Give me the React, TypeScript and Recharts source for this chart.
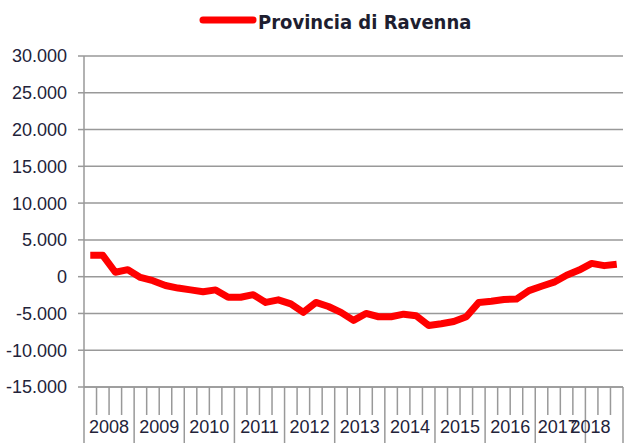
import { LineChart, Line, XAxis, YAxis, CartesianGrid, Legend } from "recharts";

// quarterly values, 2008 Q1 .. 2018 Q3
const quarters = [
  "2008T1", "2008T2", "2008T3", "2008T4",
  "2009T1", "2009T2", "2009T3", "2009T4",
  "2010T1", "2010T2", "2010T3", "2010T4",
  "2011T1", "2011T2", "2011T3", "2011T4",
  "2012T1", "2012T2", "2012T3", "2012T4",
  "2013T1", "2013T2", "2013T3", "2013T4",
  "2014T1", "2014T2", "2014T3", "2014T4",
  "2015T1", "2015T2", "2015T3", "2015T4",
  "2016T1", "2016T2", "2016T3", "2016T4",
  "2017T1", "2017T2", "2017T3", "2017T4",
  "2018T1", "2018T2", "2018T3",
];
const ravenna = [
  2900, 2900, 600, 950,
  -100, -550, -1200, -1550,
  -1800, -2050, -1800, -2800,
  -2800, -2450, -3500, -3150,
  -3700, -4850, -3500, -4050,
  -4850, -5950, -5000, -5450,
  -5450, -5100, -5300, -6650,
  -6400, -6100, -5450, -3500,
  -3350, -3100, -3050, -1900,
  -1300, -750, 200, 900,
  1800, 1500, 1700,
];
const yTicks = [-15000, -10000, -5000, 0, 5000, 10000, 15000, 20000, 25000, 30000];
const yearLabels = ["2008", "2009", "2010", "2011", "2012", "2013", "2014", "2015", "2016", "2017", "2018"];
// where each year label sits, in quarter units along the axis
const yearLabelPos = [2, 6, 10, 14, 18, 22, 26, 30, 34, 37.8, 40.4];

const data = quarters.map((q, i) => ({ q, x: i + 0.5, v: ravenna[i] }));
const boundaryTicks = quarters.map((_, i) => i).concat([quarters.length]);
const xTicks = boundaryTicks.concat(yearLabelPos.filter((p) => !Number.isInteger(p)));

const fmt = (v: number) => {
  const s = Math.abs(v).toString().replace(/\B(?=(\d{3})+(?!\d))/g, ".");
  return v < 0 ? "-" + s : s;
};

const font = "'Liberation Sans', Arial, sans-serif";

function XTick(props: any) {
  const { x, y, payload } = props;
  const v = payload.value as number;
  const idx = yearLabelPos.indexOf(v);
  const isLine = Number.isInteger(v);
  // long ticks mark year boundaries
  const long = v % 4 === 0 || v === quarters.length;
  return (
    <g>
      {isLine && (
        <line x1={x} x2={x} y1={y} y2={y + (long ? 56 : 28)} stroke="#999" strokeWidth={1.5} />
      )}
      {idx >= 0 && (
        <text x={x} y={y + 46} textAnchor="middle" fontFamily={font} fontSize={18} fill="#23233a">
          {yearLabels[idx]}
        </text>
      )}
    </g>
  );
}

function LegendContent() {
  return (
    <svg width={630} height={40}>
      <line x1={203} x2={253} y1={20} y2={20} stroke="#ff0000" strokeWidth={7} strokeLinecap="round" />
      <text
        x={258}
        y={29}
        fontFamily="'DejaVu Sans Condensed', 'Liberation Sans Narrow', sans-serif"
        fontWeight="bold"
        fontSize={20}
        fill="#1e1e30"
      >
        Provincia di Ravenna
      </text>
    </svg>
  );
}

export default function App() {
  return (
    <div style={{ position: "absolute", left: 0, top: 0, background: "#fff" }}>
      <LineChart width={630} height={444} data={data} margin={{ top: 56, right: 7, left: 0, bottom: 0 }}>
        <CartesianGrid vertical={false} stroke="#999" strokeWidth={1.5} />
        <XAxis
          dataKey="x"
          type="number"
          domain={[0, quarters.length]}
          ticks={xTicks}
          interval={0}
          height={57}
          tickSize={0}
          tickMargin={0}
          tick={<XTick />}
          axisLine={{ stroke: "#999", strokeWidth: 1.5 }}
        />
        <YAxis
          width={84}
          domain={[-15000, 30000]}
          ticks={yTicks}
          interval={0}
          tickFormatter={fmt}
          tickSize={6}
          tickMargin={11}
          tick={{ fontFamily: font, fontSize: 18, fill: "#23233a" }}
          tickLine={{ stroke: "#999", strokeWidth: 1.5 }}
          axisLine={{ stroke: "#999", strokeWidth: 1.5 }}
        />
        <Legend
          layout="horizontal"
          verticalAlign="middle"
          align="center"
          content={<LegendContent />}
          wrapperStyle={{ top: 0, left: 0, width: 630 }}
        />
        <Line
          type="linear"
          dataKey="v"
          stroke="#ff0000"
          strokeWidth={7}
          strokeLinejoin="round"
          dot={false}
          isAnimationActive={false}
        />
      </LineChart>
    </div>
  );
}
